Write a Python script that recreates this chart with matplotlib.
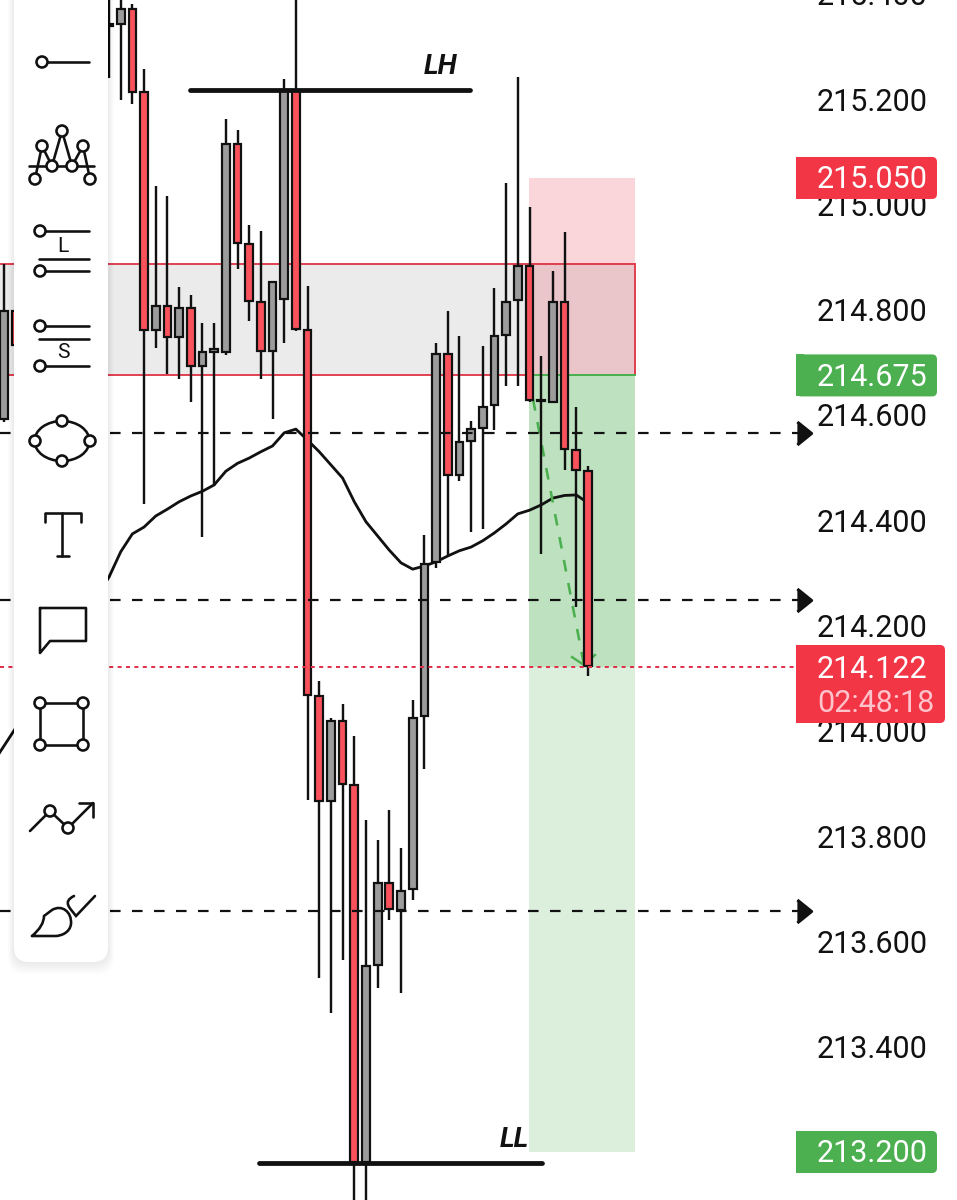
import numpy as np
import matplotlib
matplotlib.use('Agg')
from matplotlib import pyplot as plt
from matplotlib.markers import MarkerStyle
from matplotlib.patches import Rectangle, FancyBboxPatch, Circle, Ellipse, PathPatch
from matplotlib.path import Path

plt.rcParams['font.family'] = ['Roboto', 'DejaVu Sans']

# candles
bar_pos = [-10, -9, -1] + list(range(41))
opens = [214.592, 214.797, 215.342, 215.342, 215.371, 215.213, 214.761, 214.807, 214.748, 214.803,
         214.693, 214.719, 214.719, 215.115, 214.925, 214.814, 214.721, 214.820, 215.217, 214.761,
         214.066, 213.867, 214.019, 213.897, 213.181, 213.555, 213.711, 213.660, 213.700, 214.028,
         214.321, 214.716, 214.486, 214.550, 214.575, 214.618, 214.752, 214.818, 214.883, 214.628,
         214.625, 214.815, 214.533, 214.493]
highs = [214.887, 214.850, 215.440, 215.440, 215.380, 215.257, 215.035, 215.016, 214.843, 214.828,
         214.775, 214.775, 215.162, 215.141, 214.961, 214.949, 214.852, 215.238, 215.440, 214.845,
         214.094, 214.024, 214.051, 213.990, 213.831, 213.793, 213.850, 213.777, 214.059, 214.372,
         214.737, 214.797, 214.750, 214.588, 214.731, 214.841, 215.041, 215.242, 214.995, 214.711,
         214.873, 214.948, 214.615, 214.503]
lows = [214.587, 214.700, 215.240, 215.198, 215.191, 214.431, 214.727, 214.678, 214.668, 214.625,
        214.368, 214.465, 214.714, 214.877, 214.778, 214.668, 214.592, 214.737, 214.759, 213.869,
        213.531, 213.464, 213.564, 213.080, 213.080, 213.512, 213.641, 213.502, 213.679, 213.927,
        214.309, 214.332, 214.474, 214.378, 214.383, 214.571, 214.655, 214.655, 214.625, 214.336,
        214.622, 214.495, 214.235, 214.105]
closes = [214.797, 214.733, 215.338, 215.371, 215.213, 214.761, 214.807, 214.748, 214.803, 214.693,
          214.719, 214.725, 215.115, 214.927, 214.816, 214.721, 214.852, 215.217, 214.763, 214.068,
          213.867, 214.019, 213.899, 213.181, 213.553, 213.711, 213.662, 213.696, 214.024, 214.317,
          214.716, 214.486, 214.548, 214.573, 214.615, 214.750, 214.815, 214.883, 214.629, 214.626,
          214.815, 214.535, 214.495, 214.124]

# moving average
ema_pos = [-11, -10, -9, -1] + list(range(41))
ema_vals = [213.937, 213.971, 214.005, 214.292, 214.340, 214.374, 214.387, 214.408, 214.421, 214.435,
            214.446, 214.455, 214.467, 214.493, 214.508, 214.518, 214.530, 214.541, 214.566, 214.573,
            214.552, 214.530, 214.505, 214.480, 214.435, 214.397, 214.370, 214.343, 214.319, 214.307,
            214.313, 214.321, 214.332, 214.342, 214.349, 214.361, 214.376, 214.393, 214.412, 214.419,
            214.429, 214.442, 214.447, 214.448, 214.433]

tick_vals = [213.4, 213.6, 213.8, 214.0, 214.2, 214.4, 214.6, 214.8, 215.0, 215.2, 215.4]
dash_levels = [214.566, 214.249, 213.658]
zone_top, zone_bottom = 214.887, 214.676
stop_price, entry_price, last_price, target_price = 215.050, 214.675, 214.122, 213.200
lh_price, ll_price = 215.217, 213.179

RED = '#f9525c'
GREY = '#9c9c9c'
BLACK = '#111111'
PX = 0.72  # points per pixel at dpi 100


def px_y(p):
    return 99 + (215.2 - p) * 526.5


def idx(x):
    return (x - 120.7) / 11.68


fig = plt.figure(figsize=(9.57, 12), dpi=100)
ax = fig.add_axes([0, -24 / 1200, 1, 1248 / 1200])
ax.set_xlim(idx(0), idx(957))
ax.set_ylim(215.2 - 1125 / 526.5, 215.2 + 123 / 526.5)
for s in ax.spines.values():
    s.set_visible(False)
ax.set_xticks([])
ax.yaxis.tick_right()
ax.set_yticks(tick_vals)
ax.set_yticklabels([f'{v:.3f}' for v in tick_vals], fontsize=22, color=BLACK)
ax.tick_params(axis='y', length=0, pad=-140 * PX)

# zones
x_end = idx(635)
x_pos = idx(529)
ax.add_patch(Rectangle((idx(-20), zone_bottom), x_end - idx(-20), zone_top - zone_bottom,
                       fc='#ebebeb', ec='#e04455', lw=2 * PX, zorder=1))
ax.add_patch(Rectangle((x_pos, entry_price), x_end - x_pos, stop_price - entry_price,
                       fc='#e8334a', alpha=0.2, lw=0, zorder=1.2))
ax.add_patch(Rectangle((x_pos, target_price), x_end - x_pos, entry_price - target_price,
                       fc='#4caf50', alpha=0.2, lw=0, zorder=1.2))
ax.add_patch(Rectangle((x_pos, last_price), x_end - x_pos, entry_price - last_price,
                       fc='#4caf50', alpha=0.2, lw=0, zorder=1.3))
ax.plot([x_pos, x_end], [entry_price, entry_price], color='#4caf50', lw=2 * PX, zorder=1.4)

# moving average, forecast path
ax.plot(ema_pos, ema_vals, color=BLACK, lw=2.8 * PX, zorder=2)
ax.plot([idx(533), idx(584)], [214.630, 214.125], color='#4caf50', lw=2.6 * PX,
        ls=(0, (4.5, 4.5)), zorder=2.2)
ax.plot([idx(572), idx(584), idx(595)], [214.140, 214.125, 214.144], color='#4caf50', lw=2.4 * PX, zorder=2.2)

# candles
pos = np.array(bar_pos)
o, h, l, c = map(np.array, (opens, highs, lows, closes))
ax.vlines(pos, l, h, color=BLACK, lw=2.4 * PX, zorder=3)
ax.bar(pos, np.abs(c - o), bottom=np.minimum(o, c), width=0.66,
       color=[GREY if cc > oo else RED for oo, cc in zip(o, c)],
       edgecolor=BLACK, linewidth=2.2 * PX, zorder=3.2)

# levels
arrow = MarkerStyle([(-0.62, 1), (0.62, 0), (-0.62, -1)], joinstyle='round')
for lv in dash_levels:
    ax.plot([idx(0), idx(798)], [lv, lv], color=BLACK, lw=2.2 * PX, ls=(0, (4.8, 5.2)), zorder=4)
    ax.plot([idx(804)], [lv], marker=arrow, ms=23 * PX,
            color=BLACK, mew=3 * PX, mec=BLACK, zorder=4)
ax.plot([idx(0), idx(796)], [last_price, last_price], color='#e0324a', lw=2 * PX,
        ls=(0, (2, 2.2)), zorder=4)
ax.plot([idx(190), idx(470)], [lh_price, lh_price], color=BLACK, lw=4.8 * PX, solid_capstyle='round', zorder=5)
ax.plot([idx(259), idx(542)], [ll_price, ll_price], color=BLACK, lw=4.8 * PX, solid_capstyle='round', zorder=5)
ax.text(idx(424), 215.262, 'LH', fontsize=20, fontweight='bold', fontstyle='italic',
        color=BLACK, ha='left', va='center', zorder=6)
ax.text(idx(500), 213.224, 'LL', fontsize=20, fontweight='bold', fontstyle='italic',
        color=BLACK, ha='left', va='center', zorder=6)

# overlay in pixels: toolbar and price badges
ui = fig.add_axes([0, 0, 1, 1], zorder=10)
ui.set_xlim(0, 957)
ui.set_ylim(1200, 0)
ui.axis('off')


def badge(x0, x1, y0, y1, color):
    ui.add_patch(FancyBboxPatch((x0 + 5, y0 + 5), x1 - x0 - 10, y1 - y0 - 10,
                                boxstyle='round,pad=5,rounding_size=5', fc=color, ec='none'))
    ui.add_patch(Rectangle((x0, y0), 8, y1 - y0, fc=color, ec='none'))


def label(y, s, color='white'):
    ui.text(817, y + 2, s, fontsize=22, color=color, ha='left', va='center')


badge(796, 937, px_y(stop_price) - 21, px_y(stop_price) + 21, '#f23645')
label(px_y(stop_price), f'{stop_price:.3f}')
badge(796, 937, px_y(entry_price) - 21, px_y(entry_price) + 21, '#4caf50')
label(px_y(entry_price), f'{entry_price:.3f}')
badge(796, 937, px_y(target_price) - 21, px_y(target_price) + 21, '#4caf50')
label(px_y(target_price), f'{target_price:.3f}')
badge(796, 945, 645, 723, '#f23645')
label(667, f'{last_price:.3f}')
label(702, '02:48:18', '#ffc3cb')

# toolbar with a soft shadow
for k in range(10, 0, -1):
    ui.add_patch(FancyBboxPatch((14 - k * 0.6, -40), 94 + k * 1.2, 1002 + k * 1.2,
                                boxstyle='round,pad=0,rounding_size=16', fc='black', alpha=0.008, ec='none'))
ui.add_patch(FancyBboxPatch((14, -40), 94, 1002, boxstyle='round,pad=0,rounding_size=15',
                            fc='white', ec='none'))


def line(xs, ys):
    ui.plot(xs, ys, color=BLACK, lw=2.6 * PX, solid_capstyle='round', solid_joinstyle='round', zorder=11)


def dot(x, y, r=5.5):
    ui.add_patch(Circle((x, y), r, fc='white', ec=BLACK, lw=2.6 * PX, zorder=12))


line([42, 89], [62, 62])
dot(42, 62)

line([29, 94], [166, 166])
line([35, 42, 52, 62, 72, 83, 90], [179, 146, 166, 131, 166, 146, 179])
for x, y in [(35, 179), (42, 146), (52, 166), (62, 131), (72, 166), (83, 146), (90, 179)]:
    dot(x, y)

line([40, 89], [231, 231])
dot(40, 231)
ui.text(63, 246, 'L', fontsize=15, color=BLACK, ha='center', va='center')
line([39, 89], [259, 259])
line([40, 89], [271, 271])
dot(40, 271)

line([40, 89], [326, 326])
dot(40, 326)
line([39, 89], [339, 339])
ui.text(63, 353, 'S', fontsize=15, color=BLACK, ha='center', va='center')
line([40, 89], [366, 366])
dot(40, 366)

ui.add_patch(Ellipse((62, 441), 55, 40, fc='none', ec=BLACK, lw=2.6 * PX, zorder=11))
for x, y in [(35, 441), (62, 421), (90, 441), (62, 461)]:
    dot(x, y)

line([45, 45, 81, 81], [522, 513, 513, 522])
line([62, 62], [513, 556])
line([57, 69], [556, 556])

line([40, 86, 86, 50, 40, 40], [608, 608, 641, 641, 653, 608])

line([40, 83, 83, 40, 40], [703, 703, 745, 745, 703])
for x, y in [(40, 703), (83, 703), (83, 745), (40, 745)]:
    dot(x, y, 5.5)

line([30, 50, 68, 93], [831, 811, 828, 803])
line([79, 93, 93], [803, 803, 817])
dot(50, 811)
dot(68, 828)

brush = Path([(32, 936), (44, 926), (44, 916), (52, 910), (62, 904), (72, 912), (71, 924),
              (70, 932), (62, 936), (55, 936), (32, 936)],
             [Path.MOVETO, Path.CURVE3, Path.CURVE3, Path.LINETO, Path.CURVE4, Path.CURVE4, Path.CURVE4,
              Path.CURVE4, Path.CURVE4, Path.CURVE4, Path.LINETO])
ui.add_patch(PathPatch(brush, fc='none', ec=BLACK, lw=2.6 * PX, capstyle='round', zorder=11))
hook = Path([(74, 896), (62, 902), (70, 908), (76, 916), (95, 896)],
            [Path.MOVETO, Path.CURVE4, Path.CURVE4, Path.CURVE4, Path.LINETO])
ui.add_patch(PathPatch(hook, fc='none', ec=BLACK, lw=2.6 * PX, capstyle='round', zorder=11))

fig.savefig('out.png', dpi=100)
